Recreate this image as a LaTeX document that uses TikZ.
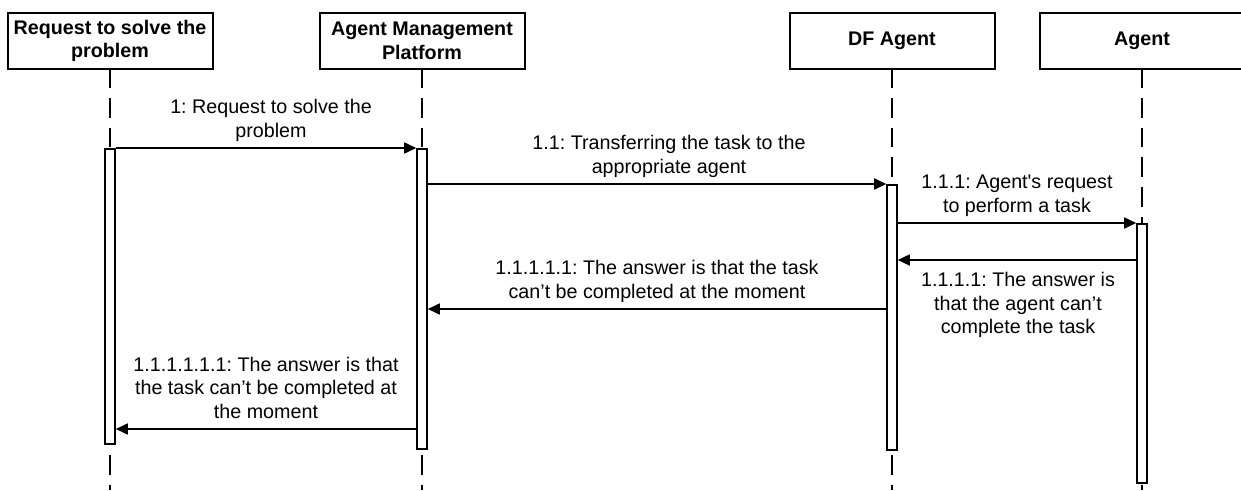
\documentclass[tikz,border=0pt]{standalone}
\usepackage{fontspec}
\setmainfont{Liberation Sans}
\usetikzlibrary{arrows.meta}
\frenchspacing
\begin{document}
\begin{tikzpicture}[x=1pt,y=-1pt,
  txt/.style={font=\fontsize{19.7}{23.5}\selectfont},
  head/.style={txt,draw,line width=2pt,minimum width=205pt,minimum height=56pt,
    inner sep=0pt,align=center,font=\fontsize{19.7}{23.5}\selectfont\bfseries},
  life/.style={line width=2.2pt,dash pattern=on 19.75pt off 10pt,dash phase=2pt},
  actbar/.style={draw,fill=white,line width=1.6pt,minimum width=10pt,inner sep=0pt,anchor=north},
  msg/.style={line width=1.7pt,-{Triangle[length=12pt,width=11pt]}},
  lblup/.style={txt,align=center,inner sep=0pt,anchor=south,yshift=2.8pt},
  lbldown/.style={txt,align=center,inner sep=0pt,anchor=north,yshift=-9.2pt}]
\useasboundingbox (0,0) rectangle (1241,490);
\clip (0,0) rectangle (1241,490);

% lifeline heads
\node[head] (h1) at (110,41) {Request to solve the\\problem};
\node[head] (h2) at (422,41) {Agent Management\\Platform};
\node[head] (h3) at (892,41) {DF Agent};
\node[head] (h4) at (1142,41) {Agent};

\coordinate (bottom) at (0,490);

% dashed lifelines
\foreach \h in {h1,h2,h3,h4}
  \draw[life] (\h.south) -- (\h.south |- bottom);

% activation bars
\node[actbar,minimum height=295pt] (b1) at (110,148) {};
\node[actbar,minimum height=300pt] (b2) at (422,148) {};
\node[actbar,minimum height=265pt] (b3) at (892,184) {};
\node[actbar,minimum height=259pt] (b4) at (1142,223) {};

% message levels
\coordinate (m4) at (0,260);
\coordinate (m5) at (0,309);
\coordinate (m6) at (0,429);

% messages
\draw[msg] (b1.north east) -- node[lblup,xshift=5pt]
  {1: Request to solve the\\problem\strut} (b2.north west);
\draw[msg] (b2.east |- b3.north) -- node[lblup,xshift=12pt]
  {1.1: Transferring the task to the\\appropriate agent\strut} (b3.north west);
\draw[msg] (b3.east |- b4.north) -- node[lblup]
  {1.1.1: Agent\textquotesingle s request\\to perform a task\strut} (b4.north west);
\draw[msg] (b4.west |- m4) -- node[lbldown,xshift=1pt]
  {\strut 1.1.1.1: The answer is\\that the agent can’t\\complete the task} (b3.east |- m4);
\draw[msg] (b3.west |- m5) -- node[lblup]
  {1.1.1.1.1: The answer is that the task\\can’t be completed at the moment\strut} (b2.east |- m5);
\draw[msg] (b2.west |- m6) -- node[lblup]
  {1.1.1.1.1.1: The answer is that\\the task can’t be completed at\\the moment\strut} (b1.east |- m6);
\end{tikzpicture}
\end{document}
